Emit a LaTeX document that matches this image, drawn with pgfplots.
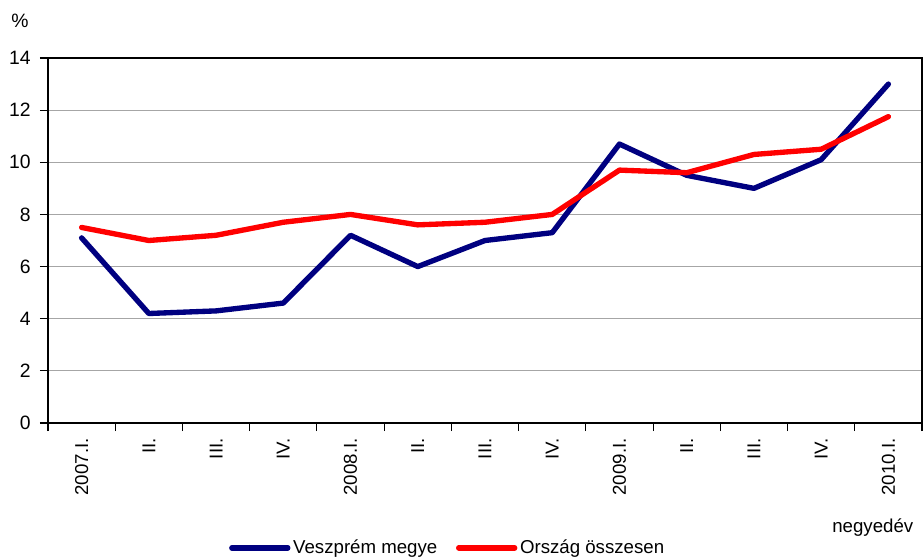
\documentclass[border=0pt]{standalone}
\usepackage{fontspec}
\setmainfont{Liberation Sans}
\usepackage{pgfplots}
\pgfplotsset{compat=1.18}
\definecolor{navy}{HTML}{000080}
\begin{document}
\begin{tikzpicture}
\useasboundingbox (-36pt,-100.5pt) rectangle (656.25pt,317.25pt);
\begin{axis}[
  at={(0,0)}, anchor=south west,
  scale only axis, width=655.5pt, height=273.75pt,
  xmin=-0.5, xmax=12.5, ymin=0, ymax=14,
  ytick={0,2,...,14},
  xtick={0,...,12},
  xticklabels={2007.I.,II.,III.,IV.,2008.I.,II.,III.,IV.,2009.I.,II.,III.,IV.,2010.I.},
  minor xtick={-0.5,0.5,...,12.5},
  major x tick style={draw=none},
  tick align=outside,
  major tick length=6pt,
  minor tick length=6pt,
  tick style={black, line width=0.8pt},
  xticklabel style={rotate=90, anchor=east, font=\fontsize{14}{16}\selectfont, xshift=-2pt},
  yticklabel style={font=\fontsize{14.5}{16}\selectfont, xshift=-3.5pt},
  /pgf/number format/assume math mode=true,
  ymajorgrids,
  grid style={gray!70, line width=0.6pt},
  axis line style={line width=1.2pt},
  xtick pos=bottom, ytick pos=left,
  legend style={at={(0.4577,-0.342)}, anchor=center, draw=none, fill=none,
    font=\fontsize{14}{16}\selectfont, legend columns=2,
    /tikz/every even column/.append style={column sep=12pt}},
  legend image code/.code={\draw[#1, line cap=round] (0pt,0pt) -- (42pt,0pt);},
  legend cell align=left,
  clip=false,
]
\addplot[navy, line width=4pt, line join=round, line cap=round] coordinates {
(0,7.1) (1,4.2) (2,4.3) (3,4.6) (4,7.2) (5,6.0) (6,7.0) (7,7.3) (8,10.7) (9,9.5) (10,9.0) (11,10.1) (12,13.0)};
\addlegendentry{Veszprém megye}
\addplot[red, line width=4pt, line join=round, line cap=round] coordinates {
(0,7.5) (1,7.0) (2,7.2) (3,7.7) (4,8.0) (5,7.6) (6,7.7) (7,8.0) (8,9.7) (9,9.6) (10,10.3) (11,10.5) (12,11.75)};
\addlegendentry{Ország összesen}
\node[anchor=east, font=\fontsize{14}{16}\selectfont] at (rel axis cs:0.9954,-0.2877) {negyedév};
\node[font=\fontsize{14.5}{16}\selectfont] at (rel axis cs:-0.032,1.101) {\%};
\end{axis}
\end{tikzpicture}
\end{document}
